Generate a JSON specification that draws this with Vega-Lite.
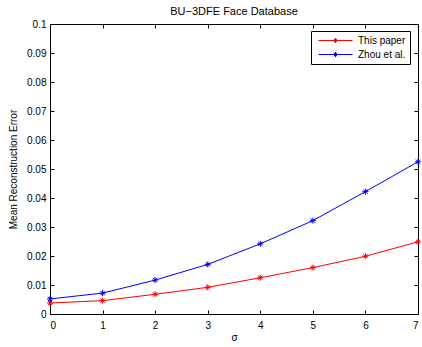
{
  "$schema": "https://vega.github.io/schema/vega-lite/v6.json",
  "width": 368,
  "height": 290,
  "autosize": "none",
  "padding": {"left": 50, "top": 24, "right": 4, "bottom": 33},
  "background": "white",
  "title": {"text": "BU−3DFE Face Database", "fontSize": 11, "fontWeight": "normal", "font": "Liberation Sans", "color": "black", "offset": 2},
  "config": {
    "font": "Liberation Sans",
    "view": {"stroke": "black", "strokeWidth": 1},
    "axis": {"grid": false, "labelFontSize": 10, "labelColor": "black", "titleFontSize": 10, "titleFontWeight": "normal", "titleColor": "black", "ticks": true, "tickColor": "black", "tickWidth": 1, "tickSize": 4, "offset": -4, "domain": false, "zindex": 1}
  },
  "data": {"values": [
    {"s": 0, "e": 0.0038, "series": "This paper"},
    {"s": 1, "e": 0.0046, "series": "This paper"},
    {"s": 2, "e": 0.0068, "series": "This paper"},
    {"s": 3, "e": 0.0092, "series": "This paper"},
    {"s": 4, "e": 0.0125, "series": "This paper"},
    {"s": 5, "e": 0.0160, "series": "This paper"},
    {"s": 6, "e": 0.0199, "series": "This paper"},
    {"s": 7, "e": 0.0249, "series": "This paper"},
    {"s": 0, "e": 0.0052, "series": "Zhou et al."},
    {"s": 1, "e": 0.0072, "series": "Zhou et al."},
    {"s": 2, "e": 0.0117, "series": "Zhou et al."},
    {"s": 3, "e": 0.0171, "series": "Zhou et al."},
    {"s": 4, "e": 0.0242, "series": "Zhou et al."},
    {"s": 5, "e": 0.0322, "series": "Zhou et al."},
    {"s": 6, "e": 0.0422, "series": "Zhou et al."},
    {"s": 7, "e": 0.0525, "series": "Zhou et al."}
  ]},
  "layer": [
    {
      "mark": {"type": "line", "strokeWidth": 1},
      "encoding": {
        "x": {"field": "s", "type": "quantitative", "scale": {"domain": [0, 7], "nice": false, "zero": false}, "axis": {"orient": "bottom", "title": "σ", "values": [0,1,2,3,4,5,6,7], "labelPadding": 6, "titlePadding": 2}},
        "y": {"field": "e", "type": "quantitative", "scale": {"domain": [0, 0.1], "nice": false}, "axis": {"orient": "left", "title": "Mean Reconstruction Error", "values": [0,0.01,0.02,0.03,0.04,0.05,0.06,0.07,0.08,0.09,0.1], "format": "~g", "labelPadding": 4, "titlePadding": 8}},
        "color": {"field": "series", "type": "nominal", "scale": {"domain": ["This paper", "Zhou et al."], "range": ["#ff0000", "#0000ff"]},
          "legend": {"title": null, "orient": "none", "legendX": 261, "legendY": 7, "fillColor": "white", "strokeColor": "black", "padding": 4, "labelFontSize": 10, "labelColor": "black", "labelOffset": 32, "rowPadding": 3, "symbolType": "M-0.4,0H6.4M3,-0.5V0.5M2.5,0H3.5M2.65,-0.35L3.35,0.35M2.65,0.35L3.35,-0.35", "symbolSize": 100, "symbolStrokeWidth": 1}}
      }
    },
    {
      "mark": {"type": "point", "shape": "M0,-1V1M-1,0H1M-0.7,-0.7L0.7,0.7M-0.7,0.7L0.7,-0.7", "size": 36, "filled": false, "strokeWidth": 1, "opacity": 1},
      "encoding": {
        "x": {"field": "s", "type": "quantitative", "axis": {"orient": "top", "title": null, "labels": false, "values": [0,1,2,3,4,5,6,7]}},
        "y": {"field": "e", "type": "quantitative", "axis": {"orient": "right", "title": null, "labels": false, "values": [0,0.01,0.02,0.03,0.04,0.05,0.06,0.07,0.08,0.09,0.1]}},
        "color": {"field": "series", "type": "nominal", "legend": null}
      }
    }
  ],
  "resolve": {"axis": {"x": "independent", "y": "independent"}}
}
